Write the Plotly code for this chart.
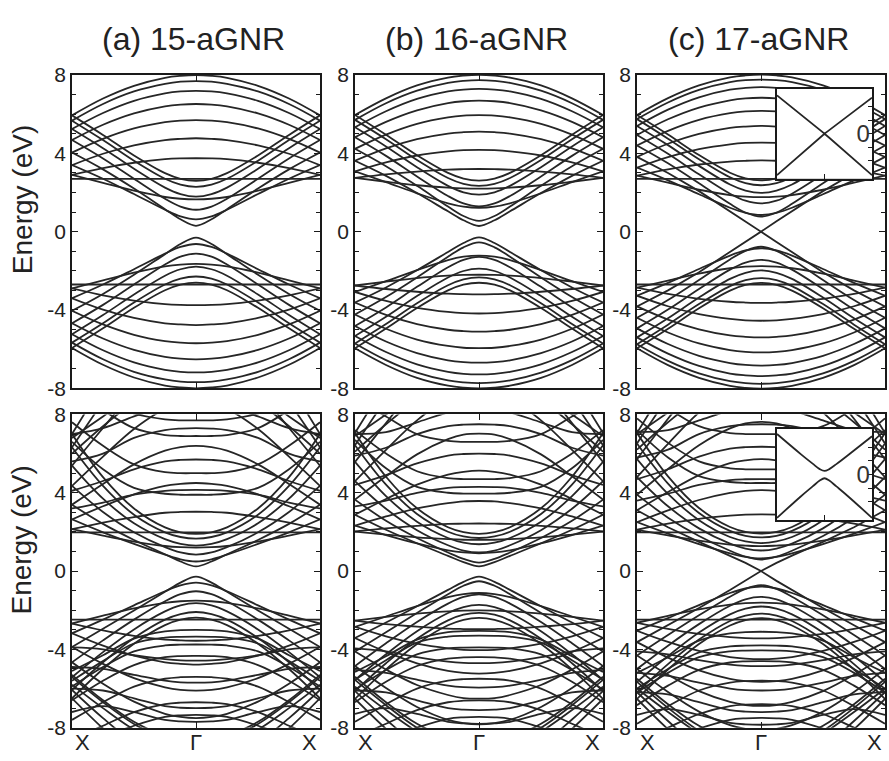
import plotly.graph_objects as go

# k-path sampling: fraction of the distance from Gamma (0) to X (1)
K_HALF = [0.0, 0.125, 0.25, 0.5, 0.75, 1.0]

PANEL_TITLES = ["(a) 15-aGNR", "(b) 16-aGNR", "(c) 17-aGNR"]
Y_TICKS = [-8, -4, 0, 4, 8]
Y_TICKTEXT = ["-8", "-4", "0", "4", "8"]
K_LABELS = ["X", "\u0393", "X"]

# ---------------- top row (energies in eV, Gamma -> X) ----------------
TOP15_C = [
    [8.00, 7.96, 7.86, 7.45, 6.80, 5.94],
    [7.69, 7.66, 7.55, 7.16, 6.52, 5.67],
    [7.19, 7.16, 7.06, 6.68, 6.06, 5.24],
    [6.52, 6.49, 6.40, 6.04, 5.46, 4.68],
    [5.70, 5.67, 5.59, 5.27, 4.74, 4.04],
    [4.77, 4.74, 4.68, 4.41, 3.98, 3.40],
    [3.75, 3.74, 3.70, 3.52, 3.25, 2.90],
    [2.70, 2.70, 2.70, 2.70, 2.70, 2.70],
    [1.65, 1.68, 1.77, 2.09, 2.49, 2.90],
    [0.63, 0.78, 1.12, 1.92, 2.70, 3.40],
    [0.30, 0.63, 1.15, 2.20, 3.18, 4.04],
    [1.12, 1.28, 1.68, 2.70, 3.74, 4.68],
    [1.79, 1.92, 2.25, 3.21, 4.26, 5.24],
    [2.29, 2.40, 2.70, 3.62, 4.68, 5.67],
    [2.60, 2.70, 2.99, 3.89, 4.94, 5.94],
]
TOP15_V = [
    [-8.00, -7.96, -7.86, -7.45, -6.80, -5.94],
    [-7.69, -7.66, -7.55, -7.16, -6.52, -5.67],
    [-7.19, -7.16, -7.06, -6.68, -6.06, -5.24],
    [-6.52, -6.49, -6.40, -6.04, -5.46, -4.68],
    [-5.70, -5.67, -5.59, -5.27, -4.74, -4.04],
    [-4.77, -4.74, -4.68, -4.41, -3.98, -3.40],
    [-3.75, -3.74, -3.70, -3.52, -3.25, -2.90],
    [-2.70, -2.70, -2.70, -2.70, -2.70, -2.70],
    [-1.65, -1.68, -1.77, -2.09, -2.49, -2.90],
    [-0.63, -0.78, -1.12, -1.92, -2.70, -3.40],
    [-0.30, -0.63, -1.15, -2.20, -3.18, -4.04],
    [-1.12, -1.28, -1.68, -2.70, -3.74, -4.68],
    [-1.79, -1.92, -2.25, -3.21, -4.26, -5.24],
    [-2.29, -2.40, -2.70, -3.62, -4.68, -5.67],
    [-2.60, -2.70, -2.99, -3.89, -4.94, -5.94],
]
TOP16_C = [
    [8.01, 7.97, 7.87, 7.47, 6.81, 5.96],
    [7.74, 7.70, 7.60, 7.20, 6.56, 5.71],
    [7.29, 7.26, 7.16, 6.78, 6.15, 5.33],
    [6.69, 6.66, 6.57, 6.20, 5.61, 4.82],
    [5.95, 5.93, 5.84, 5.51, 4.96, 4.23],
    [5.11, 5.08, 5.01, 4.72, 4.25, 3.62],
    [4.18, 4.16, 4.10, 3.89, 3.54, 3.08],
    [3.20, 3.19, 3.17, 3.07, 2.93, 2.75],
    [2.20, 2.21, 2.25, 2.37, 2.55, 2.75],
    [1.22, 1.28, 1.45, 1.96, 2.53, 3.08],
    [0.29, 0.58, 1.04, 1.97, 2.85, 3.62],
    [0.55, 0.80, 1.28, 2.34, 3.34, 4.23],
    [1.29, 1.44, 1.82, 2.82, 3.87, 4.82],
    [1.89, 2.01, 2.34, 3.29, 4.35, 5.33],
    [2.34, 2.44, 2.74, 3.66, 4.72, 5.71],
    [2.61, 2.71, 3.00, 3.90, 4.95, 5.96],
]
TOP16_V = [
    [-8.01, -7.97, -7.87, -7.47, -6.81, -5.96],
    [-7.74, -7.70, -7.60, -7.20, -6.56, -5.71],
    [-7.29, -7.26, -7.16, -6.78, -6.15, -5.33],
    [-6.69, -6.66, -6.57, -6.20, -5.61, -4.82],
    [-5.95, -5.93, -5.84, -5.51, -4.96, -4.23],
    [-5.11, -5.08, -5.01, -4.72, -4.25, -3.62],
    [-4.18, -4.16, -4.10, -3.89, -3.54, -3.08],
    [-3.20, -3.19, -3.17, -3.07, -2.93, -2.75],
    [-2.20, -2.21, -2.25, -2.37, -2.55, -2.75],
    [-1.22, -1.28, -1.45, -1.96, -2.53, -3.08],
    [-0.29, -0.58, -1.04, -1.97, -2.85, -3.62],
    [-0.55, -0.80, -1.28, -2.34, -3.34, -4.23],
    [-1.29, -1.44, -1.82, -2.82, -3.87, -4.82],
    [-1.89, -2.01, -2.34, -3.29, -4.35, -5.33],
    [-2.34, -2.44, -2.74, -3.66, -4.72, -5.71],
    [-2.61, -2.71, -3.00, -3.90, -4.95, -5.96],
]
TOP17_C = [
    [8.02, 7.98, 7.88, 7.47, 6.82, 5.96],
    [7.77, 7.74, 7.64, 7.24, 6.60, 5.75],
    [7.38, 7.34, 7.25, 6.86, 6.23, 5.40],
    [6.84, 6.81, 6.71, 6.34, 5.74, 4.94],
    [6.17, 6.14, 6.05, 5.71, 5.15, 4.40],
    [5.40, 5.37, 5.30, 4.99, 4.49, 3.82],
    [4.55, 4.53, 4.46, 4.21, 3.81, 3.27],
    [3.64, 3.62, 3.58, 3.43, 3.18, 2.86],
    [2.70, 2.70, 2.70, 2.70, 2.70, 2.70],
    [1.76, 1.79, 1.87, 2.14, 2.50, 2.86],
    [0.85, 0.96, 1.22, 1.91, 2.62, 3.27],
    [0.77, 0.98, 1.42, 2.47, 3.49, 4.40],
    [1.44, 1.58, 1.94, 2.93, 3.98, 4.94],
    [1.98, 2.10, 2.41, 3.36, 4.42, 5.40],
    [2.37, 2.48, 2.78, 3.70, 4.75, 5.75],
    [2.62, 2.72, 3.01, 3.91, 4.96, 5.96],
]
TOP17_V = [
    [-8.02, -7.98, -7.88, -7.47, -6.82, -5.96],
    [-7.77, -7.74, -7.64, -7.24, -6.60, -5.75],
    [-7.38, -7.34, -7.25, -6.86, -6.23, -5.40],
    [-6.84, -6.81, -6.71, -6.34, -5.74, -4.94],
    [-6.17, -6.14, -6.05, -5.71, -5.15, -4.40],
    [-5.40, -5.37, -5.30, -4.99, -4.49, -3.82],
    [-4.55, -4.53, -4.46, -4.21, -3.81, -3.27],
    [-3.64, -3.62, -3.58, -3.43, -3.18, -2.86],
    [-2.70, -2.70, -2.70, -2.70, -2.70, -2.70],
    [-1.76, -1.79, -1.87, -2.14, -2.50, -2.86],
    [-0.85, -0.96, -1.22, -1.91, -2.62, -3.27],
    [-0.77, -0.98, -1.42, -2.47, -3.49, -4.40],
    [-1.44, -1.58, -1.94, -2.93, -3.98, -4.94],
    [-1.98, -2.10, -2.41, -3.36, -4.42, -5.40],
    [-2.37, -2.48, -2.78, -3.70, -4.75, -5.75],
    [-2.62, -2.72, -3.01, -3.91, -4.96, -5.96],
]
# metallic (linear) bands crossing at Gamma in 17-aGNR
TOP17_LIN = [
    [0.00, 0.53, 1.05, 2.07, 3.00, 3.82],
    [0.00, -0.53, -1.05, -2.07, -3.00, -3.82],
]

# ---------------- bottom row ----------------
BOT15_C = [
    [14.35, 14.20, 13.70, 11.95, 9.55, 7.00],
    [12.95, 12.80, 12.35, 10.80, 8.64, 6.32],
    [10.94, 10.82, 10.45, 9.15, 7.31, 5.39],
    [8.64, 8.55, 8.28, 7.26, 5.85, 4.35],
    [6.40, 6.33, 6.15, 5.45, 4.45, 3.39],
    [4.50, 4.45, 4.35, 3.92, 3.31, 2.64],
    [3.03, 3.02, 2.98, 2.76, 2.48, 2.14],
    [1.98, 1.98, 1.98, 1.98, 1.98, 1.98],
    [1.20, 1.22, 1.28, 1.51, 1.81, 2.14],
    [0.49, 0.60, 0.84, 1.39, 1.98, 2.64],
    [0.24, 0.49, 0.86, 1.59, 2.41, 3.39],
    [0.84, 0.95, 1.22, 1.98, 3.02, 4.35],
    [1.30, 1.39, 1.63, 2.44, 3.70, 5.39],
    [1.66, 1.74, 1.98, 2.88, 4.35, 6.32],
    [1.90, 1.98, 2.23, 3.20, 4.80, 7.00],
]
BOT15_V = [
    [-10.68, -10.60, -10.40, -9.40, -8.04, -6.50],
    [-9.94, -9.87, -9.62, -8.77, -7.51, -6.07],
    [-8.84, -8.77, -8.56, -7.81, -6.70, -5.42],
    [-7.51, -7.45, -7.29, -6.67, -5.75, -4.66],
    [-6.11, -6.07, -5.94, -5.47, -4.74, -3.88],
    [-4.78, -4.74, -4.66, -4.32, -3.81, -3.18],
    [-3.56, -3.54, -3.50, -3.31, -3.03, -2.68],
    [-2.48, -2.48, -2.48, -2.48, -2.48, -2.48],
    [-1.51, -1.54, -1.62, -1.91, -2.28, -2.68],
    [-0.59, -0.73, -1.03, -1.75, -2.48, -3.18],
    [-0.28, -0.59, -1.06, -2.01, -2.95, -3.88],
    [-1.03, -1.18, -1.54, -2.48, -3.54, -4.66],
    [-1.64, -1.75, -2.06, -2.98, -4.14, -5.42],
    [-2.09, -2.20, -2.48, -3.42, -4.66, -6.07],
    [-2.38, -2.48, -2.76, -3.71, -5.00, -6.50],
]
BOT15_EXTRA = [
    [3.90, 3.90, 3.95, 4.25, 5.20, 6.60],
    [4.15, 4.14, 4.10, 3.90, 3.50, 3.20],
    [5.00, 5.00, 5.05, 5.45, 6.40, 7.60],
    [5.70, 5.68, 5.60, 5.20, 4.60, 4.10],
    [6.90, 6.90, 6.95, 7.30, 8.20, 9.00],
    [7.30, 7.28, 7.20, 6.80, 6.00, 5.60],
    [7.70, 7.70, 7.75, 8.05, 8.70, 9.30],
    [8.60, 8.55, 8.40, 7.90, 7.30, 7.00],
    [9.50, 9.45, 9.30, 8.60, 7.40, 6.00],
    [10.20, 10.10, 9.90, 9.00, 7.90, 6.80],
    [-3.00, -3.02, -3.08, -3.45, -4.30, -5.10],
    [-3.35, -3.36, -3.40, -3.70, -4.60, -5.60],
    [-3.75, -3.76, -3.80, -4.10, -4.90, -5.90],
    [-4.33, -4.34, -4.40, -4.80, -5.60, -6.60],
    [-4.57, -4.56, -4.50, -4.30, -4.00, -3.90],
    [-5.40, -5.42, -5.50, -5.90, -6.70, -7.60],
    [-5.70, -5.68, -5.60, -5.30, -5.00, -4.90],
    [-6.70, -6.72, -6.80, -7.20, -7.90, -8.60],
    [-7.00, -6.98, -6.90, -6.50, -6.10, -6.00],
    [-7.35, -7.37, -7.45, -7.90, -8.50, -9.20],
    [-7.70, -7.68, -7.60, -7.20, -6.90, -7.20],
    [-8.60, -8.55, -8.40, -7.70, -6.60, -5.30],
    [-9.20, -9.10, -8.90, -8.10, -7.00, -5.80],
]
BOT16_C = [
    [14.40, 14.20, 13.75, 12.05, 9.60, 7.05],
    [13.20, 13.00, 12.60, 10.90, 8.77, 6.43],
    [11.30, 11.20, 10.80, 9.48, 7.56, 5.58],
    [9.18, 9.09, 8.80, 7.70, 6.19, 4.59],
    [7.02, 6.97, 6.74, 5.96, 4.84, 3.65],
    [5.13, 5.07, 4.93, 4.42, 3.68, 2.88],
    [3.58, 3.56, 3.47, 3.20, 2.79, 2.32],
    [2.43, 2.42, 2.41, 2.31, 2.18, 2.02],
    [1.59, 1.60, 1.63, 1.72, 1.86, 2.02],
    [0.91, 0.95, 1.06, 1.41, 1.84, 2.32],
    [0.24, 0.46, 0.78, 1.42, 2.11, 2.88],
    [0.43, 0.62, 0.95, 1.69, 2.57, 3.65],
    [0.95, 1.05, 1.32, 2.09, 3.18, 4.59],
    [1.37, 1.45, 1.69, 2.52, 3.83, 5.58],
    [1.69, 1.77, 2.01, 2.92, 4.42, 6.43],
    [1.90, 1.99, 2.24, 3.21, 4.82, 7.05],
]
BOT16_V = [
    [-10.70, -10.60, -10.35, -9.44, -8.06, -6.53],
    [-10.05, -9.96, -9.73, -8.88, -7.58, -6.13],
    [-9.04, -8.98, -8.77, -8.00, -6.85, -5.56],
    [-7.83, -7.77, -7.60, -6.94, -5.97, -4.85],
    [-6.52, -6.49, -6.33, -5.82, -5.03, -4.11],
    [-5.24, -5.20, -5.10, -4.71, -4.13, -3.42],
    [-4.04, -4.02, -3.95, -3.71, -3.33, -2.85],
    [-2.97, -2.96, -2.94, -2.84, -2.71, -2.53],
    [-2.01, -2.02, -2.06, -2.17, -2.34, -2.53],
    [-1.12, -1.18, -1.33, -1.79, -2.32, -2.85],
    [-0.28, -0.55, -0.96, -1.80, -2.63, -3.42],
    [-0.52, -0.75, -1.18, -2.14, -3.12, -4.11],
    [-1.19, -1.32, -1.66, -2.60, -3.69, -4.85],
    [-1.73, -1.84, -2.14, -3.07, -4.25, -5.56],
    [-2.14, -2.23, -2.52, -3.46, -4.71, -6.13],
    [-2.39, -2.49, -2.77, -3.72, -5.02, -6.53],
]
BOT16_EXTRA = [
    [3.96, 3.96, 4.00, 4.30, 5.25, 6.70],
    [4.30, 4.29, 4.25, 4.00, 3.60, 3.30],
    [4.70, 4.70, 4.75, 5.10, 6.00, 7.20],
    [6.00, 5.98, 5.90, 5.50, 4.90, 4.40],
    [6.60, 6.60, 6.65, 7.00, 7.90, 8.80],
    [7.50, 7.48, 7.40, 7.00, 6.30, 5.90],
    [8.30, 8.25, 8.10, 7.60, 7.10, 7.00],
    [9.60, 9.55, 9.40, 8.70, 7.50, 6.10],
    [10.30, 10.20, 10.00, 9.10, 8.00, 6.90],
    [-3.05, -3.07, -3.12, -3.50, -4.35, -5.15],
    [-3.30, -3.31, -3.35, -3.65, -4.55, -5.55],
    [-3.90, -3.91, -3.95, -4.25, -5.05, -6.05],
    [-4.40, -4.41, -4.47, -4.85, -5.65, -6.70],
    [-4.70, -4.69, -4.63, -4.40, -4.10, -3.95],
    [-5.50, -5.52, -5.60, -6.00, -6.80, -7.70],
    [-5.95, -5.93, -5.85, -5.55, -5.20, -5.05],
    [-6.60, -6.62, -6.70, -7.10, -7.80, -8.50],
    [-7.10, -7.08, -7.00, -6.60, -6.20, -6.10],
    [-7.45, -7.47, -7.55, -8.00, -8.60, -9.30],
    [-7.80, -7.78, -7.70, -7.30, -7.00, -7.30],
    [-8.70, -8.65, -8.50, -7.80, -6.70, -5.40],
    [-9.30, -9.20, -9.00, -8.20, -7.10, -5.90],
]
BOT17_C = [
    [14.40, 14.25, 13.80, 12.05, 9.62, 7.05],
    [13.30, 13.20, 12.75, 11.10, 8.89, 6.52],
    [11.65, 11.50, 11.15, 9.75, 7.78, 5.72],
    [9.68, 9.58, 9.25, 8.10, 6.50, 4.80],
    [7.62, 7.54, 7.29, 6.43, 5.21, 3.90],
    [5.72, 5.66, 5.51, 4.90, 4.04, 3.11],
    [4.14, 4.10, 3.99, 3.63, 3.10, 2.50],
    [2.90, 2.88, 2.83, 2.67, 2.42, 2.11],
    [1.98, 1.98, 1.98, 1.98, 1.98, 1.98],
    [1.27, 1.30, 1.35, 1.55, 1.82, 2.11],
    [0.65, 0.73, 0.91, 1.38, 1.91, 2.50],
    [0.59, 0.74, 1.04, 1.79, 2.73, 3.90],
    [1.05, 1.15, 1.40, 2.18, 3.31, 4.80],
    [1.43, 1.52, 1.74, 2.60, 3.94, 5.72],
    [1.72, 1.80, 2.05, 2.97, 4.47, 6.52],
    [1.91, 2.00, 2.25, 3.22, 4.84, 7.05],
]
BOT17_V = [
    [-10.70, -10.65, -10.40, -9.44, -8.08, -6.53],
    [-10.10, -10.05, -9.82, -9.00, -7.66, -6.19],
    [-9.29, -9.20, -8.96, -8.16, -6.99, -5.66],
    [-8.12, -8.06, -7.87, -7.18, -6.18, -5.00],
    [-6.89, -6.84, -6.68, -6.13, -5.30, -4.31],
    [-5.66, -5.62, -5.51, -5.07, -4.42, -3.63],
    [-4.50, -4.47, -4.39, -4.08, -3.62, -3.05],
    [-3.44, -3.42, -3.37, -3.21, -2.95, -2.64],
    [-2.48, -2.48, -2.48, -2.48, -2.48, -2.48],
    [-1.61, -1.64, -1.71, -1.96, -2.29, -2.64],
    [-0.79, -0.89, -1.12, -1.74, -2.40, -3.05],
    [-0.72, -0.91, -1.31, -2.26, -3.27, -4.31],
    [-1.32, -1.44, -1.77, -2.71, -3.81, -5.00],
    [-1.81, -1.92, -2.21, -3.14, -4.34, -5.66],
    [-2.17, -2.27, -2.55, -3.50, -4.75, -6.19],
    [-2.40, -2.50, -2.78, -3.73, -5.03, -6.53],
]
BOT17_LIN = [
    [0.00, 0.42, 0.79, 1.49, 2.24, 3.11],
    [0.00, -0.50, -0.97, -1.89, -2.77, -3.63],
]
BOT17_EXTRA = [
    [4.50, 4.50, 4.55, 4.85, 5.80, 7.20],
    [4.70, 4.69, 4.65, 4.40, 3.95, 3.60],
    [5.20, 5.20, 5.25, 5.60, 6.55, 7.80],
    [6.35, 6.33, 6.25, 5.85, 5.20, 4.70],
    [7.00, 7.00, 7.05, 7.40, 8.30, 9.10],
    [7.50, 7.48, 7.40, 7.00, 6.20, 5.80],
    [8.40, 8.35, 8.20, 7.70, 7.20, 7.10],
    [9.70, 9.65, 9.50, 8.80, 7.60, 6.20],
    [10.40, 10.30, 10.10, 9.20, 8.10, 7.00],
    [-3.10, -3.12, -3.18, -3.55, -4.40, -5.20],
    [-3.80, -3.81, -3.85, -4.15, -5.00, -6.00],
    [-4.05, -4.06, -4.10, -4.40, -5.20, -6.20],
    [-4.60, -4.61, -4.67, -5.05, -5.85, -6.85],
    [-4.85, -4.84, -4.78, -4.55, -4.25, -4.10],
    [-5.60, -5.62, -5.70, -6.10, -6.90, -7.80],
    [-6.10, -6.08, -6.00, -5.70, -5.35, -5.20],
    [-6.80, -6.82, -6.90, -7.30, -8.00, -8.70],
    [-7.20, -7.18, -7.10, -6.70, -6.30, -6.20],
    [-7.50, -7.52, -7.60, -8.05, -8.65, -9.30],
    [-7.85, -7.83, -7.75, -7.35, -7.05, -7.35],
    [-8.80, -8.75, -8.60, -7.90, -6.80, -5.50],
    [-9.40, -9.30, -9.10, -8.30, -7.20, -6.00],
]

# ---------------- insets (zoom around Gamma, 17-aGNR) ----------------
INSET_K = [-1.0, -0.5, -0.25, -0.1, 0.0, 0.1, 0.25, 0.5, 1.0]
INSET_TOP_UP = [0.85, 0.42, 0.21, 0.08, 0.0, 0.08, 0.20, 0.40, 0.80]
INSET_TOP_DN = [-0.92, -0.46, -0.23, -0.09, 0.0, -0.09, -0.23, -0.46, -0.92]
INSET_BOT_UP = [0.89, 0.45, 0.24, 0.12, 0.08, 0.12, 0.23, 0.43, 0.84]
INSET_BOT_DN = [-0.95, -0.48, -0.26, -0.13, -0.08, -0.13, -0.26, -0.48, -0.95]

# ---------------- layout geometry (pixels) ----------------
W, H = 889, 761
COL_X = [(72, 320), (355, 603), (637, 885)]
ROW_Y = [(65, 388), (415, 738)]
INSET_X = (777, 872)
INSET_Y = [(79, 172), (430, 524)]

LINE_COLOR = "#262626"
FRAME_COLOR = "#1a1a1a"
TEXT_COLOR = "#222222"
FONT = "Liberation Sans, Arial, sans-serif"


def full_k():
    return [-k for k in reversed(K_HALF)] + K_HALF[1:]


def full_e(band):
    return list(reversed(band)) + band[1:]


def px_x(p):
    return p / W


def px_y(p):
    return 1 - p / H


fig = go.Figure()

panels = [
    (TOP15_C + TOP15_V, []),
    (TOP16_C + TOP16_V, []),
    (TOP17_C + TOP17_V, TOP17_LIN),
    (BOT15_C + BOT15_V + BOT15_EXTRA, []),
    (BOT16_C + BOT16_V + BOT16_EXTRA, []),
    (BOT17_C + BOT17_V + BOT17_EXTRA, BOT17_LIN),
]

KX = full_k()
for i, (bands, linear_bands) in enumerate(panels):
    ax = "" if i == 0 else str(i + 1)
    for band in bands:
        fig.add_trace(go.Scatter(
            x=KX, y=full_e(band), mode="lines",
            line=dict(color=LINE_COLOR, width=1.8, shape="spline", smoothing=1.0),
            xaxis="x" + ax, yaxis="y" + ax, hoverinfo="skip", showlegend=False))
    for band in linear_bands:
        fig.add_trace(go.Scatter(
            x=KX, y=full_e(band), mode="lines",
            line=dict(color=LINE_COLOR, width=1.8, shape="linear"),
            xaxis="x" + ax, yaxis="y" + ax, hoverinfo="skip", showlegend=False))

# insets
for j, (up, dn) in enumerate([(INSET_TOP_UP, INSET_TOP_DN), (INSET_BOT_UP, INSET_BOT_DN)]):
    ax = str(7 + j)
    shape = "linear" if j == 0 else "spline"
    for band in (up, dn):
        fig.add_trace(go.Scatter(
            x=INSET_K, y=band, mode="lines",
            line=dict(color=LINE_COLOR, width=1.8, shape=shape),
            xaxis="x" + ax, yaxis="y" + ax, hoverinfo="skip", showlegend=False))

layout = dict(
    width=W, height=H,
    margin=dict(l=0, r=0, t=0, b=0),
    paper_bgcolor="white", plot_bgcolor="white",
    showlegend=False,
    font=dict(family=FONT, color=TEXT_COLOR),
)

for i in range(6):
    r, c = divmod(i, 3)
    ax = "" if i == 0 else str(i + 1)
    x0, x1 = COL_X[c]
    y0, y1 = ROW_Y[r]
    layout["xaxis" + ax] = dict(
        domain=[px_x(x0), px_x(x1)], range=[-1, 1], anchor="y" + ax,
        showline=True, linecolor=FRAME_COLOR, linewidth=1.8, mirror="ticks",
        ticks="inside", tickvals=[0], ticklen=6, tickwidth=1.2, tickcolor=FRAME_COLOR,
        showticklabels=False, showgrid=False, zeroline=False, fixedrange=True)
    layout["yaxis" + ax] = dict(
        domain=[px_y(y1), px_y(y0)], range=[-8, 8], anchor="x" + ax,
        showline=True, linecolor=FRAME_COLOR, linewidth=1.8, mirror="ticks",
        ticks="inside", tickvals=Y_TICKS, ticktext=Y_TICKTEXT, ticklen=6,
        tickwidth=1.2, tickcolor=FRAME_COLOR,
        minor=dict(tickvals=[-7, -6, -5, -3, -2, -1, 1, 2, 3, 5, 6, 7],
                   ticks="inside", ticklen=4, tickwidth=1, tickcolor=FRAME_COLOR),
        tickfont=dict(size=21, family=FONT, color=TEXT_COLOR),
        showgrid=False, zeroline=False, fixedrange=True)

for j in range(2):
    ax = str(7 + j)
    y0, y1 = INSET_Y[j]
    layout["xaxis" + ax] = dict(
        domain=[px_x(INSET_X[0]), px_x(INSET_X[1])], range=[-1, 1], anchor="y" + ax,
        showline=True, linecolor=FRAME_COLOR, linewidth=2, mirror=True,
        ticks="inside", tickvals=[0], ticklen=5, tickcolor=FRAME_COLOR,
        showticklabels=False, showgrid=False, zeroline=False, fixedrange=True)
    layout["yaxis" + ax] = dict(
        domain=[px_y(y1), px_y(y0)], range=[-1, 1], anchor="x" + ax, side="right",
        showline=True, linecolor=FRAME_COLOR, linewidth=2, mirror=True,
        ticks="inside", tickvals=[-0.6, -0.3, 0, 0.3, 0.6], ticktext=["", "", "0", "", ""],
        ticklen=4, tickcolor=FRAME_COLOR, ticklabelposition="inside",
        tickfont=dict(size=24, family=FONT, color="#333333"),
        showgrid=False, zeroline=False, fixedrange=True)

annotations = []
for c, title in enumerate(PANEL_TITLES):
    x0, x1 = COL_X[c]
    annotations.append(dict(
        text=title, x=px_x((x0 + x1) / 2 - 3), y=px_y(28), xref="paper", yref="paper",
        showarrow=False, xanchor="center", yanchor="middle",
        font=dict(size=32, family=FONT, color=TEXT_COLOR)))
for ycen in (194, 545):
    annotations.append(dict(
        text="Energy (eV)", x=px_x(22), y=px_y(ycen), xref="paper", yref="paper",
        showarrow=False, textangle=-90, xanchor="center", yanchor="middle",
        font=dict(size=28, family=FONT, color=TEXT_COLOR)))
for c in range(3):
    x0, x1 = COL_X[c]
    for lab, xp, anc in zip(K_LABELS, [x0 + 1, (x0 + x1) / 2, x1 - 1], ["left", "center", "right"]):
        annotations.append(dict(
            text=lab, x=px_x(xp), y=px_y(738), xref="paper", yref="paper",
            showarrow=False, xanchor=anc, yanchor="top",
            font=dict(size=22, family=FONT, color=TEXT_COLOR)))
layout["annotations"] = annotations

fig.update_layout(**layout)
fig.write_html("out.html")
